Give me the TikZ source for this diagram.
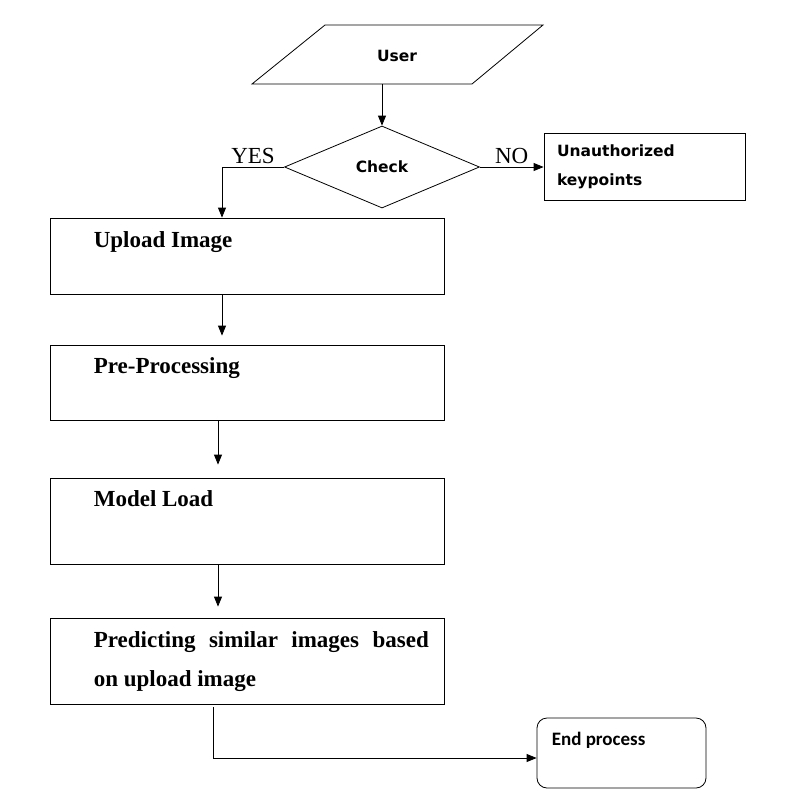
\documentclass[tikz,border=0pt]{standalone}
\usepackage{fontspec}
\setmainfont{Liberation Serif}
\newfontfamily\dejavu{DejaVu Sans}
\newfontfamily\carlito{Carlito}
\usetikzlibrary{shapes.geometric,arrows.meta,calc}

\tikzset{
  procbox/.style={draw, rectangle, minimum width=394pt, inner sep=0pt, line width=0.8pt},
  boxtext/.style={anchor=base west, inner sep=0pt, font=\fontsize{23}{39}\selectfont\bfseries},
  flow/.style={line width=0.8pt, -{Triangle[length=10pt,width=8pt]}},
  yesno/.style={font=\fontsize{23}{26}\selectfont, inner sep=3pt},
  sanstext/.style={font=\dejavu\bfseries\fontsize{15.5}{29}\selectfont}
}

\begin{document}
\begin{tikzpicture}[x=1pt,y=1pt,yscale=-1]
\useasboundingbox (0,0) rectangle (792,807);

%Shape: Parallelogram
\draw [line width=0.8pt] (325,25) -- (543,25) -- (472,84) -- (252,84) -- cycle ;
\coordinate (userbase) at (382,84);
% Text Node
\node (user) at (397,56) [sanstext] {User};

%Shape: Diamond
\node (check) at (382,167) [draw, diamond, minimum width=195pt, minimum height=82pt, inner sep=0pt, line width=0.8pt, sanstext] {Check};

%Shape: Rectangle
\node (unauth) at (644.5,167) [draw, rectangle, minimum width=201pt, minimum height=67pt, text width=175pt, inner xsep=13pt, inner ysep=0pt, align=left, line width=0.8pt, sanstext] {Unauthorized\\keypoints};

%Shape: Rectangle
\node (upload) at (247,256) [procbox, minimum height=76pt] {};
% Text Node
\node (tupload) at ($(upload.north west)+(44,30)$) [boxtext] {Upload Image};

%Shape: Rectangle
\node (pre) at (247,382.5) [procbox, minimum height=75pt] {};
% Text Node
\node (tpre) at ($(pre.north west)+(44,29)$) [boxtext] {Pre-Processing};

%Shape: Rectangle
\node (model) at (247,521) [procbox, minimum height=86pt] {};
% Text Node
\node (tmodel) at ($(model.north west)+(44,29)$) [boxtext] {Model Load};

%Shape: Rectangle
\node (predict) at (247,661) [procbox, minimum height=86pt] {};
% Text Node
\node (tpredict) at ($(predict.north west)+(44,30)$) [boxtext, text width=335pt, align=justify] {Predicting similar images based\linebreak on upload image};

%Shape: Rounded Rectangle
\node (endp) at (621.5,753) [draw, rectangle, rounded corners=10pt, minimum width=169pt, minimum height=70pt, line width=0.8pt] {};
% Text Node
\node (tend) at ($(endp.north west)+(15,28)$) [anchor=base west, inner sep=0pt, font=\carlito\bfseries\fontsize{19}{22}\selectfont] {End process};

%Straight Lines
\draw [flow] (userbase) -- (check.north) ;
\draw [flow] (check.west) -| node [pos=0.25, above, yesno] (yes) {YES} ($(upload.north)+(-25,0)$) ;
\draw [flow] (check.east) -- node [above, yesno] (no) {NO} (unauth.west) ;
\draw [flow] ($(upload.south)+(-25,0)$) -- ($(pre.north)+(-25,-9)$) ;
\draw [flow] ($(pre.south)+(-29,0)$) -- ($(model.north)+(-29,-13)$) ;
\draw [flow] ($(model.south)+(-29,0)$) -- ($(predict.north)+(-29,-11)$) ;
\draw [flow] ($(predict.south)+(-34,3)$) |- ($(endp.west)+(0,5)$) ;

\end{tikzpicture}
\end{document}
